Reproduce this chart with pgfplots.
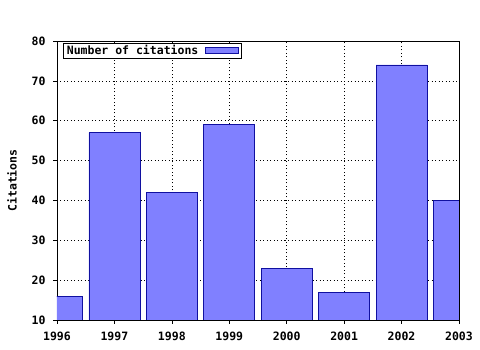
\documentclass[border=0pt]{standalone}
\usepackage{fontspec}
\setmonofont{DejaVu Sans Mono}
\usepackage{pgfplots}
\pgfplotsset{compat=1.18}
\definecolor{barfill}{HTML}{8080FF}
\definecolor{baredge}{HTML}{1010A0}
\newcommand{\cf}{\ttfamily\bfseries\fontsize{11.5}{12}\selectfont}
\begin{document}
\begin{tikzpicture}
\path[use as bounding box] (-57pt,-30pt) rectangle (423pt,320pt);
\begin{axis}[
  at={(0,0)}, anchor=south west,
  scale only axis, width=402pt, height=279pt,
  xmin=1996, xmax=2003, ymin=10, ymax=80,
  xtick={1996,...,2003}, ytick={10,20,...,80},
  minor x tick num=4,
  xticklabel style={/pgf/number format/1000 sep={}},
  /pgf/number format/assume math mode=true,
  font=\cf,
  tick label style={font=\cf},
  ylabel={Citations},
  ylabel style={font=\cf, at={(ticklabel cs:0.5)}, yshift=8pt},
  grid=major,
  grid style={black, line width=0.6pt, dash pattern=on 1pt off 2.5pt},
  axis on top=false,
  axis line style={black, line width=0.8pt},
  tick align=outside,
  tick style={black, line width=0.6pt},
  major tick length=4pt, minor tick length=2pt,
  xtick pos=bottom, ytick pos=left,
  x tick label style={anchor=north, yshift=-4pt, text height=8.5pt, text depth=0pt},
  y tick label style={xshift=-4pt},
  ybar, bar width=0.89, bar shift=0pt,
  legend style={at={(rel axis cs:0.017,0.993)}, anchor=north west, draw=black, line width=0.8pt,
    inner xsep=1pt, inner ysep=0.5pt, outer sep=0pt, row sep=0pt, column sep=5pt,
    font=\cf},
  legend plot pos=right,
  legend image code/.code={\draw[draw=baredge, fill=barfill, line width=0.7pt] (0cm,-0.08cm) rectangle (1.13cm,0.11cm); \path (1.2cm,0);},
]
\addplot[ybar, fill=barfill, draw=baredge, line width=0.7pt, bar width=0.89] coordinates {
 (1996,16) (1997,57) (1998,42) (1999,59) (2000,23) (2001,17) (2002,74) (2003,40)
};
\addlegendentry{Number of citations}
\end{axis}
\end{tikzpicture}
\end{document}
